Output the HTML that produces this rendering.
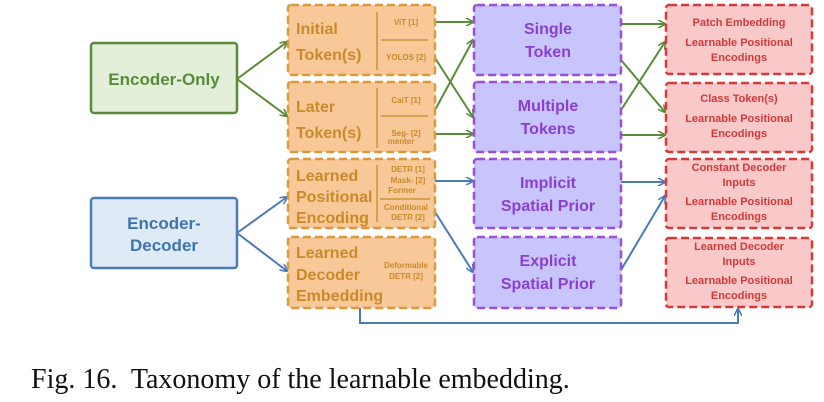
<!DOCTYPE html>
<html><head><meta charset="utf-8"><style>
html,body{margin:0;padding:0;background:#fff;}
svg{display:block;}
text{font-family:"Liberation Sans",sans-serif;font-weight:bold;}
</style></head><body>
<svg width="824" height="402" viewBox="0 0 824 402" xmlns="http://www.w3.org/2000/svg">
<defs>
<marker id="ag" markerWidth="8" markerHeight="8" refX="7" refY="4" orient="auto" markerUnits="userSpaceOnUse"><path d="M0,0 L8,4 L0,8" fill="none" stroke="#5b8a3a" stroke-width="1.6"/></marker>
<marker id="ab" markerWidth="8" markerHeight="8" refX="7" refY="4" orient="auto" markerUnits="userSpaceOnUse"><path d="M0,0 L8,4 L0,8" fill="none" stroke="#4a7ab8" stroke-width="1.6"/></marker>
</defs>
<rect x="91" y="43" width="146" height="70" rx="3" fill="#e2efd9" stroke="#5b8a3a" stroke-width="2.5"/>
<text x="164" y="85" font-size="17" fill="#5b8a3a" text-anchor="middle">Encoder-Only</text>
<rect x="91" y="198" width="146" height="70" rx="3" fill="#deebf7" stroke="#4a7ab8" stroke-width="2.5"/>
<text x="164" y="229" font-size="17" fill="#3f74b0" text-anchor="middle">Encoder-</text>
<text x="164" y="251" font-size="17" fill="#3f74b0" text-anchor="middle">Decoder</text>

<g stroke="#5b8a3a" stroke-width="2" fill="none">
<line x1="237" y1="79" x2="287" y2="42" marker-end="url(#ag)"/>
<line x1="237" y1="79" x2="287" y2="116" marker-end="url(#ag)"/>
<line x1="435" y1="22" x2="473" y2="22" marker-end="url(#ag)"/>
<line x1="435" y1="58" x2="473" y2="117" marker-end="url(#ag)"/>
<line x1="435" y1="110" x2="473" y2="40" marker-end="url(#ag)"/>
<line x1="435" y1="134" x2="473" y2="134" marker-end="url(#ag)"/>
<line x1="621" y1="24" x2="665" y2="24" marker-end="url(#ag)"/>
<line x1="621" y1="60" x2="665" y2="112" marker-end="url(#ag)"/>
<line x1="621" y1="110" x2="665" y2="42" marker-end="url(#ag)"/>
<line x1="621" y1="135" x2="665" y2="135" marker-end="url(#ag)"/>
</g>
<g stroke="#4a7ab8" stroke-width="2" fill="none">
<line x1="237" y1="233" x2="287" y2="197" marker-end="url(#ab)"/>
<line x1="237" y1="233" x2="287" y2="271" marker-end="url(#ab)"/>
<line x1="435" y1="181" x2="473" y2="181" marker-end="url(#ab)"/>
<line x1="435" y1="212" x2="473" y2="272" marker-end="url(#ab)"/>
<line x1="621" y1="182" x2="665" y2="182" marker-end="url(#ab)"/>
<line x1="621" y1="270" x2="665" y2="196" marker-end="url(#ab)"/>
<polyline points="360,308 360,323 738,323 738,309" marker-end="url(#ab)"/>
</g>

<g fill="#f8c898" stroke="#d89a3c" stroke-width="2.5" stroke-dasharray="8,4">
<rect x="288" y="5" width="147" height="70" rx="3"/>
<rect x="288" y="82" width="147" height="70" rx="3"/>
<rect x="288" y="159" width="147" height="69" rx="3"/>
<rect x="288" y="237" width="147" height="71" rx="3"/>
</g>
<g stroke="#c9943e" stroke-width="1.5">
<line x1="377" y1="12" x2="377" y2="70"/><line x1="381" y1="40" x2="428" y2="40"/>
<line x1="377" y1="88" x2="377" y2="148"/><line x1="381" y1="116" x2="428" y2="116"/>
<line x1="377" y1="165" x2="377" y2="222"/><line x1="380" y1="199" x2="430" y2="199"/>
</g>
<g fill="#c98a2a" font-size="16">
<text x="296" y="34">Initial</text><text x="296" y="60">Token(s)</text>
<text x="296" y="112">Later</text><text x="296" y="138">Token(s)</text>
<text x="296" y="181">Learned</text><text x="296" y="202">Positional</text><text x="296" y="223">Encoding</text>
<text x="296" y="258">Learned</text><text x="296" y="280">Decoder</text><text x="296" y="301">Embedding</text>
</g>
<g fill="#c98a2a" font-size="8" text-anchor="middle">
<text x="406" y="25">ViT [1]</text><text x="406" y="60">YOLOS [2]</text>
<text x="406" y="103">CaiT [1]</text><text x="406" y="136">Seg- [2]</text><text x="401" y="144">menter</text>
<text x="408" y="172">DETR [1]</text><text x="408" y="183">Mask- [2]</text><text x="402" y="193">Former</text>
<text x="406" y="210">Conditional</text><text x="408" y="220">DETR [2]</text>
<text x="406" y="268">Deformable</text><text x="406" y="279">DETR [2]</text>
</g>

<g fill="#c8c4fc" stroke="#9a4fd8" stroke-width="2.5" stroke-dasharray="8,4">
<rect x="474" y="5" width="147" height="70" rx="3"/>
<rect x="474" y="82" width="147" height="70" rx="3"/>
<rect x="474" y="159" width="147" height="69" rx="3"/>
<rect x="474" y="237" width="147" height="71" rx="3"/>
</g>
<g fill="#8a3fd0" font-size="16" text-anchor="middle">
<text x="548" y="34">Single</text><text x="548" y="57">Token</text>
<text x="548" y="111">Multiple</text><text x="548" y="134">Tokens</text>
<text x="548" y="188">Implicit</text><text x="548" y="211">Spatial Prior</text>
<text x="548" y="266">Explicit</text><text x="548" y="289">Spatial Prior</text>
</g>

<g fill="#f9c9c9" stroke="#d83a3a" stroke-width="2.5" stroke-dasharray="8,4">
<rect x="666" y="5" width="146" height="69" rx="3"/>
<rect x="666" y="83" width="146" height="69" rx="3"/>
<rect x="666" y="159" width="146" height="69" rx="3"/>
<rect x="666" y="238" width="146" height="69" rx="3"/>
</g>
<g fill="#d03a3a" font-size="11" text-anchor="middle">
<text x="739" y="26">Patch Embedding</text><text x="739" y="46">Learnable Positional</text><text x="739" y="61">Encodings</text>
<text x="739" y="102">Class Token(s)</text><text x="739" y="122">Learnable Positional</text><text x="739" y="137">Encodings</text>
<text x="739" y="171">Constant Decoder</text><text x="739" y="186">Inputs</text><text x="739" y="205">Learnable Positional</text><text x="739" y="220">Encodings</text>
<text x="739" y="250">Learned Decoder</text><text x="739" y="265">Inputs</text><text x="739" y="284">Learnable Positional</text><text x="739" y="299">Encodings</text>
</g>

<text x="31" y="388" font-size="28" fill="#111" style="font-family:'Liberation Serif',serif;font-weight:normal" xml:space="preserve">Fig. 16.  Taxonomy of the learnable embedding.</text>
</svg>
</body></html>
